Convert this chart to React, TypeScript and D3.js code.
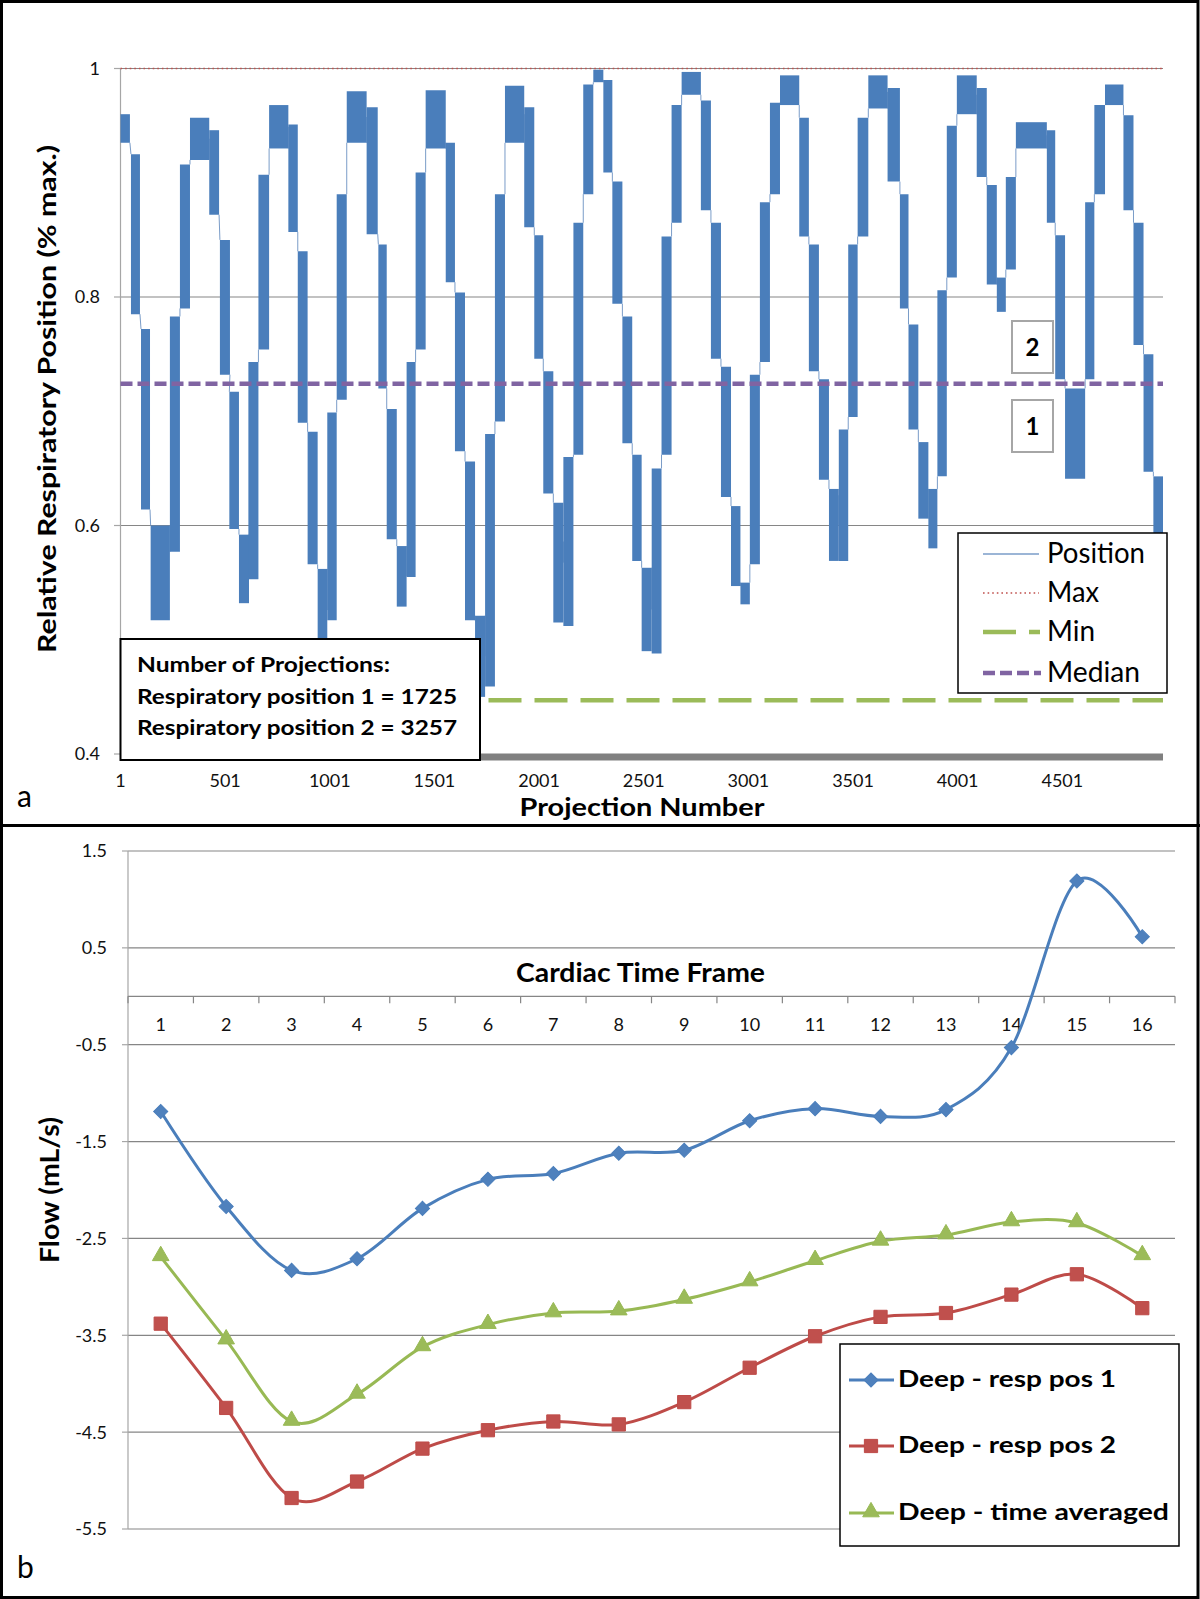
import React from 'react';
import * as d3 from 'd3';

// ---------- Panel a: respiratory position (envelope of the dense trace) ----------
const blockStart = [1, 51, 99, 145, 237, 285, 333, 425, 476, 521, 567, 612, 660, 711, 803, 848, 895, 943, 989, 1034, 1082, 1177, 1233, 1273, 1321, 1368, 1411, 1459, 1555, 1599, 1647, 1695, 1743, 1790, 1838, 1930, 1978, 2021, 2069, 2117, 2165, 2212, 2260, 2308, 2351, 2399, 2446, 2491, 2539, 2586, 2634, 2682, 2774, 2822, 2870, 2918, 2963, 3008, 3056, 3104, 3152, 3244, 3290, 3338, 3386, 3433, 3478, 3523, 3574, 3666, 3725, 3766, 3813, 3861, 3904, 3949, 3997, 4092, 4140, 4188, 4231, 4279, 4427, 4467, 4514, 4610, 4654, 4705, 4793, 4841, 4889, 4936];
const blockEnd = [46, 94, 142, 237, 285, 333, 425, 472, 524, 567, 615, 660, 711, 803, 848, 895, 943, 989, 1034, 1082, 1177, 1230, 1273, 1321, 1368, 1411, 1459, 1555, 1599, 1647, 1695, 1743, 1790, 1838, 1930, 1978, 2021, 2069, 2117, 2165, 2212, 2260, 2308, 2351, 2399, 2446, 2491, 2539, 2586, 2634, 2682, 2774, 2822, 2870, 2918, 2963, 3008, 3056, 3104, 3152, 3244, 3290, 3338, 3386, 3433, 3478, 3523, 3574, 3666, 3725, 3766, 3813, 3861, 3904, 3949, 3997, 4092, 4140, 4188, 4231, 4279, 4427, 4467, 4514, 4610, 4654, 4705, 4793, 4841, 4889, 4936, 4982];
const blockLow = [0.935, 0.785, 0.614, 0.517, 0.577, 0.79, 0.92, 0.872, 0.732, 0.597, 0.532, 0.553, 0.754, 0.93, 0.857, 0.69, 0.566, 0.49, 0.517, 0.71, 0.935, 0.855, 0.72, 0.588, 0.529, 0.555, 0.754, 0.93, 0.813, 0.665, 0.517, 0.45, 0.459, 0.691, 0.935, 0.861, 0.746, 0.628, 0.515, 0.512, 0.662, 0.89, 0.988, 0.909, 0.794, 0.672, 0.569, 0.49, 0.488, 0.662, 0.865, 0.977, 0.876, 0.746, 0.625, 0.547, 0.531, 0.566, 0.743, 0.89, 0.968, 0.853, 0.735, 0.64, 0.569, 0.569, 0.695, 0.853, 0.965, 0.901, 0.79, 0.684, 0.606, 0.58, 0.643, 0.817, 0.96, 0.905, 0.811, 0.787, 0.824, 0.93, 0.865, 0.728, 0.641, 0.728, 0.89, 0.968, 0.876, 0.758, 0.647, 0.593];
const blockHigh = [0.96, 0.925, 0.772, 0.6, 0.783, 0.916, 0.957, 0.946, 0.85, 0.717, 0.592, 0.743, 0.907, 0.968, 0.951, 0.84, 0.682, 0.562, 0.699, 0.89, 0.98, 0.966, 0.846, 0.702, 0.582, 0.743, 0.909, 0.981, 0.935, 0.804, 0.656, 0.521, 0.68, 0.89, 0.985, 0.966, 0.854, 0.735, 0.62, 0.66, 0.865, 0.986, 0.999, 0.99, 0.901, 0.783, 0.662, 0.563, 0.65, 0.853, 0.968, 0.997, 0.972, 0.865, 0.739, 0.617, 0.55, 0.732, 0.883, 0.97, 0.994, 0.957, 0.846, 0.728, 0.632, 0.684, 0.846, 0.957, 0.994, 0.983, 0.89, 0.776, 0.673, 0.632, 0.806, 0.95, 0.994, 0.983, 0.898, 0.817, 0.905, 0.953, 0.946, 0.854, 0.72, 0.883, 0.968, 0.986, 0.959, 0.865, 0.75, 0.643];

const totalProjections = 4982;
const maxValue = 1.0;
const minValue = 0.447;
const medianValue = 0.724;
const topXTicks = [1, 501, 1001, 1501, 2001, 2501, 3001, 3501, 4001, 4501];
const topYTicks = [0.4, 0.6, 0.8, 1];
const projectionCounts = [1725, 3257];
const topLegendLabels = ['Position', 'Max', 'Min', 'Median'];

// ---------- Panel b: flow per cardiac frame ----------
const frames = [1, 2, 3, 4, 5, 6, 7, 8, 9, 10, 11, 12, 13, 14, 15, 16];
const respPos1 = [-1.19, -2.17, -2.83, -2.71, -2.19, -1.89, -1.83, -1.62, -1.59, -1.285, -1.16, -1.24, -1.17, -0.53, 1.19, 0.615];
const respPos2 = [-3.38, -4.25, -5.18, -5.01, -4.67, -4.48, -4.39, -4.42, -4.19, -3.835, -3.51, -3.31, -3.27, -3.08, -2.87, -3.22];
const timeAveraged = [-2.69, -3.55, -4.39, -4.11, -3.62, -3.39, -3.27, -3.25, -3.13, -2.95, -2.73, -2.53, -2.465, -2.33, -2.34, -2.68];
const bottomYTicks = [1.5, 0.5, -0.5, -1.5, -2.5, -3.5, -4.5, -5.5];
const seriesNames = ['Deep - resp pos 1', 'Deep - resp pos 2', 'Deep - time averaged'];

const FONT = 'Lato, "Open Sans", sans-serif';
const GRID = '#868686';

export default function App() {
  // ---- panel a scales
  const xTop = d3.scaleLinear().domain([1, totalProjections]).range([120.5, 1163]);
  const yTop = d3.scaleLinear().domain([0.4, 1]).range([754, 68.5]);

  const blocks = blockStart.map((s, i) => ({ s, e: blockEnd[i], lo: blockLow[i], hi: blockHigh[i] }));
  const bandArea = d3
    .area<[number, number, number]>()
    .x((d) => xTop(d[0]))
    .y0((d) => yTop(d[1]))
    .y1((d) => yTop(d[2]));
  const connLine = d3
    .line<[number, number]>()
    .x((d) => xTop(d[0]))
    .y((d) => yTop(d[1]));
  const connectors: [number, number][][] = [];
  for (let i = 0; i < blocks.length - 1; i++) {
    const a = blocks[i];
    const b = blocks[i + 1];
    const bm = (b.lo + b.hi) / 2;
    const am = (a.lo + a.hi) / 2;
    const ya = Math.max(a.lo, Math.min(a.hi, bm));
    const yb = Math.max(b.lo, Math.min(b.hi, am));
    connectors.push([
      [a.e, ya],
      [b.s, yb],
    ]);
  }

  // ---- panel b scales
  const xBot = d3.scaleBand<number>().domain(frames).range([128, 1175]).paddingInner(0).paddingOuter(0);
  const cx = (f: number) => (xBot(f) as number) + xBot.bandwidth() / 2;
  const yBot = d3.scaleLinear().domain([-5.5, 1.5]).range([1529, 851]);
  const smooth = d3
    .line<number>()
    .x((_, i) => cx(frames[i]))
    .y((d) => yBot(d))
    .curve(d3.curveCatmullRom.alpha(0));

  const diamond = d3.symbol().type(d3.symbolSquare).size(100);
  const square = d3.symbol().type(d3.symbolSquare).size(175);
  const triangle = d3.symbol().type(d3.symbolTriangle).size(120);

  const seriesDefs = [
    { data: respPos1, stroke: '#4A7EBB', fill: '#4F81BD', kind: 'diamond' },
    { data: respPos2, stroke: '#BE4B48', fill: '#C0504D', kind: 'square' },
    { data: timeAveraged, stroke: '#98B954', fill: '#9BBB59', kind: 'triangle' },
  ];
  const marker = (kind: string, x: number, y: number, fill: string, stroke: string, key: string | number) => {
    if (kind === 'diamond')
      return <path key={key} d={diamond() as string} transform={`translate(${x},${y}) rotate(45)`} fill={fill} stroke={stroke} strokeWidth={1} />;
    if (kind === 'square')
      return <path key={key} d={square() as string} transform={`translate(${x},${y})`} fill={fill} stroke={stroke} strokeWidth={1} />;
    return <path key={key} d={triangle() as string} transform={`translate(${x},${y - 1})`} fill={fill} stroke={stroke} strokeWidth={1} />;
  };

  const fmtTop = (v: number) => (v === 1 ? '1' : v.toFixed(1));
  const botLegendY = [1380, 1446, 1513];
  const botLegendLen = [218, 218, 271];
  const topLegendY = [554, 593, 632, 673];
  const topLegendLen = [98, 52, 48, 93];

  return (
    <div style={{ position: 'absolute', left: 0, top: 0 }}>
      <svg width={1200} height={1599} style={{ display: 'block', background: '#ffffff' }} fontFamily={FONT}>
        <rect x={0} y={0} width={1200} height={1599} fill="#ffffff" />

        {/* ================= Panel a ================= */}
        {topYTicks.filter((t) => t > 0.4).map((t) => (
          <line key={`tg${t}`} x1={120.5} x2={1163} y1={yTop(t)} y2={yTop(t)} stroke={GRID} strokeWidth={1.2} />
        ))}
        <line x1={120.5} x2={120.5} y1={yTop(1)} y2={757} stroke="#A6A6A6" strokeWidth={1.2} />
        {topYTicks.map((t) => (
          <line key={`tt${t}`} x1={114} x2={120.5} y1={yTop(t)} y2={yTop(t)} stroke="#A6A6A6" strokeWidth={1.2} />
        ))}
        {topYTicks.map((t) => (
          <text key={`tl${t}`} x={100} y={yTop(t)} dy="0.36em" textAnchor="end" fontSize={18} fill="#111">
            {fmtTop(t)}
          </text>
        ))}

        {/* position trace */}
        <g>
          {connectors.map((c, i) => (
            <path key={`c${i}`} d={connLine(c) as string} stroke="#7A9CC8" strokeWidth={1} fill="none" />
          ))}
          {blocks.map((b, i) => (
            <path
              key={`b${i}`}
              d={bandArea([
                [b.s, b.lo, b.hi],
                [b.e, b.lo, b.hi],
              ]) as string}
              fill="#4A7EBB"
            />
          ))}
        </g>

        {/* max / min / median */}
        <line x1={120.5} x2={1163} y1={yTop(maxValue)} y2={yTop(maxValue)} stroke="#C0504D" strokeWidth={1.6} strokeDasharray="1.6,3" />
        <line x1={120.5} x2={1163} y1={yTop(minValue)} y2={yTop(minValue)} stroke="#9BBB59" strokeWidth={4.5} strokeDasharray="33,13" />
        <line x1={120.5} x2={1163} y1={yTop(medianValue)} y2={yTop(medianValue)} stroke="#8064A2" strokeWidth={4.5} strokeDasharray="12,5" />

        {/* thick category axis */}
        <line x1={120.5} x2={1163} y1={757} y2={757} stroke="#808080" strokeWidth={7} />
        {topXTicks.map((t) => (
          <text key={`xl${t}`} x={xTop(t)} y={787} textAnchor="middle" fontSize={18} fill="#111">
            {t}
          </text>
        ))}
        <text x={642} y={816} textAnchor="middle" fontSize={24} fontWeight={700} textLength={245} lengthAdjust="spacingAndGlyphs">
          Projection Number
        </text>
        <text transform="translate(55.5,399) rotate(-90)" textAnchor="middle" fontSize={24} fontWeight={700} textLength={508} lengthAdjust="spacingAndGlyphs">
          Relative Respiratory Position (% max.)
        </text>
        <text x={17} y={807} fontSize={30}>a</text>

        {/* projection count box */}
        <rect x={120.5} y={639} width={359.5} height={121} fill="#ffffff" stroke="#000" strokeWidth={2} />
        <text x={137} y={672} fontSize={21} fontWeight={700} textLength={253} lengthAdjust="spacingAndGlyphs">
          Number of Projections:
        </text>
        {projectionCounts.map((n, i) => (
          <text key={`pc${i}`} x={137} y={703.5 + i * 31.5} fontSize={21} fontWeight={700} textLength={320} lengthAdjust="spacingAndGlyphs">
            {`Respiratory position ${i + 1} = ${n}`}
          </text>
        ))}

        {/* numbered boxes */}
        {[2, 1].map((n, i) => (
          <g key={`nb${n}`}>
            <rect x={1012} y={321 + i * 79} width={41} height={52} fill="#ffffff" stroke="#A6A6A6" strokeWidth={2} />
            <text x={1032.5} y={347 + i * 79} dy="0.36em" textAnchor="middle" fontSize={24} fontWeight={700}>
              {n}
            </text>
          </g>
        ))}

        {/* legend a */}
        <rect x={958} y={533} width={209} height={160} fill="#ffffff" stroke="#000" strokeWidth={1.5} />
        <line x1={983} x2={1039} y1={topLegendY[0]} y2={topLegendY[0]} stroke="#7A9CC8" strokeWidth={1.5} />
        <line x1={983} x2={1039} y1={topLegendY[1]} y2={topLegendY[1]} stroke="#C0504D" strokeWidth={1.6} strokeDasharray="1.6,3" />
        <line x1={983} x2={1040} y1={topLegendY[2]} y2={topLegendY[2]} stroke="#9BBB59" strokeWidth={4.5} strokeDasharray="33,13" />
        <line x1={983} x2={1041} y1={topLegendY[3]} y2={topLegendY[3]} stroke="#8064A2" strokeWidth={4.5} strokeDasharray="12,5" />
        {topLegendLabels.map((l, i) => (
          <text key={`tlg${i}`} x={1047} y={topLegendY[i] + 9} fontSize={28} textLength={topLegendLen[i]} lengthAdjust="spacingAndGlyphs">
            {l}
          </text>
        ))}

        {/* ================= Panel b ================= */}
        {bottomYTicks.map((t) => (
          <line key={`bg${t}`} x1={128} x2={1175} y1={yBot(t)} y2={yBot(t)} stroke={GRID} strokeWidth={1.2} />
        ))}
        <line x1={128} x2={128} y1={yBot(1.5)} y2={yBot(-5.5)} stroke="#A6A6A6" strokeWidth={1.2} />
        {bottomYTicks.map((t) => (
          <line key={`bt${t}`} x1={122} x2={128} y1={yBot(t)} y2={yBot(t)} stroke="#A6A6A6" strokeWidth={1.2} />
        ))}
        {bottomYTicks.map((t) => (
          <text key={`bl${t}`} x={107} y={yBot(t)} dy="0.36em" textAnchor="end" fontSize={18} fill="#111">
            {t.toFixed(1)}
          </text>
        ))}
        <line x1={128} x2={1175} y1={yBot(0)} y2={yBot(0)} stroke={GRID} strokeWidth={1.2} />
        {frames.concat([17]).map((f, i) => {
          const x = 128 + i * xBot.bandwidth();
          return <line key={`bx${f}`} x1={x} x2={x} y1={yBot(0)} y2={yBot(0) + 7} stroke={GRID} strokeWidth={1.2} />;
        })}
        {frames.map((f) => (
          <text key={`bxl${f}`} x={cx(f)} y={1025} dy="0.36em" textAnchor="middle" fontSize={18} fill="#111">
            {f}
          </text>
        ))}
        <text x={640.5} y={981.5} textAnchor="middle" fontSize={26} fontWeight={700} textLength={249} lengthAdjust="spacingAndGlyphs">
          Cardiac Time Frame
        </text>
        <text transform="translate(59,1190) rotate(-90)" textAnchor="middle" fontSize={26} fontWeight={700} textLength={146} lengthAdjust="spacingAndGlyphs">
          Flow (mL/s)
        </text>
        <text x={17} y={1578} fontSize={30}>b</text>

        {seriesDefs.map((s, si) => (
          <g key={`s${si}`}>
            <path d={smooth(s.data) as string} fill="none" stroke={s.stroke} strokeWidth={3} />
            {s.data.map((v, i) => marker(s.kind, cx(frames[i]), yBot(v), s.fill, s.stroke, `m${si}-${i}`))}
          </g>
        ))}

        {/* legend b */}
        <rect x={840} y={1344} width={339} height={202} fill="#ffffff" stroke="#000" strokeWidth={1.5} />
        {seriesDefs.map((s, i) => (
          <g key={`lg${i}`}>
            <line x1={849} x2={894} y1={botLegendY[i]} y2={botLegendY[i]} stroke={s.stroke} strokeWidth={3} />
            {marker(s.kind, 871, botLegendY[i], s.fill, s.stroke, `lm${i}`)}
            <text x={898} y={botLegendY[i] + 7} fontSize={23} fontWeight={700} textLength={botLegendLen[i]} lengthAdjust="spacingAndGlyphs">
              {seriesNames[i]}
            </text>
          </g>
        ))}

        {/* frames */}
        <rect x={1.5} y={1.5} width={1196.5} height={1596} fill="none" stroke="#000" strokeWidth={3} />
        <line x1={0} x2={1200} y1={825.5} y2={825.5} stroke="#000" strokeWidth={3} />
      </svg>
    </div>
  );
}
